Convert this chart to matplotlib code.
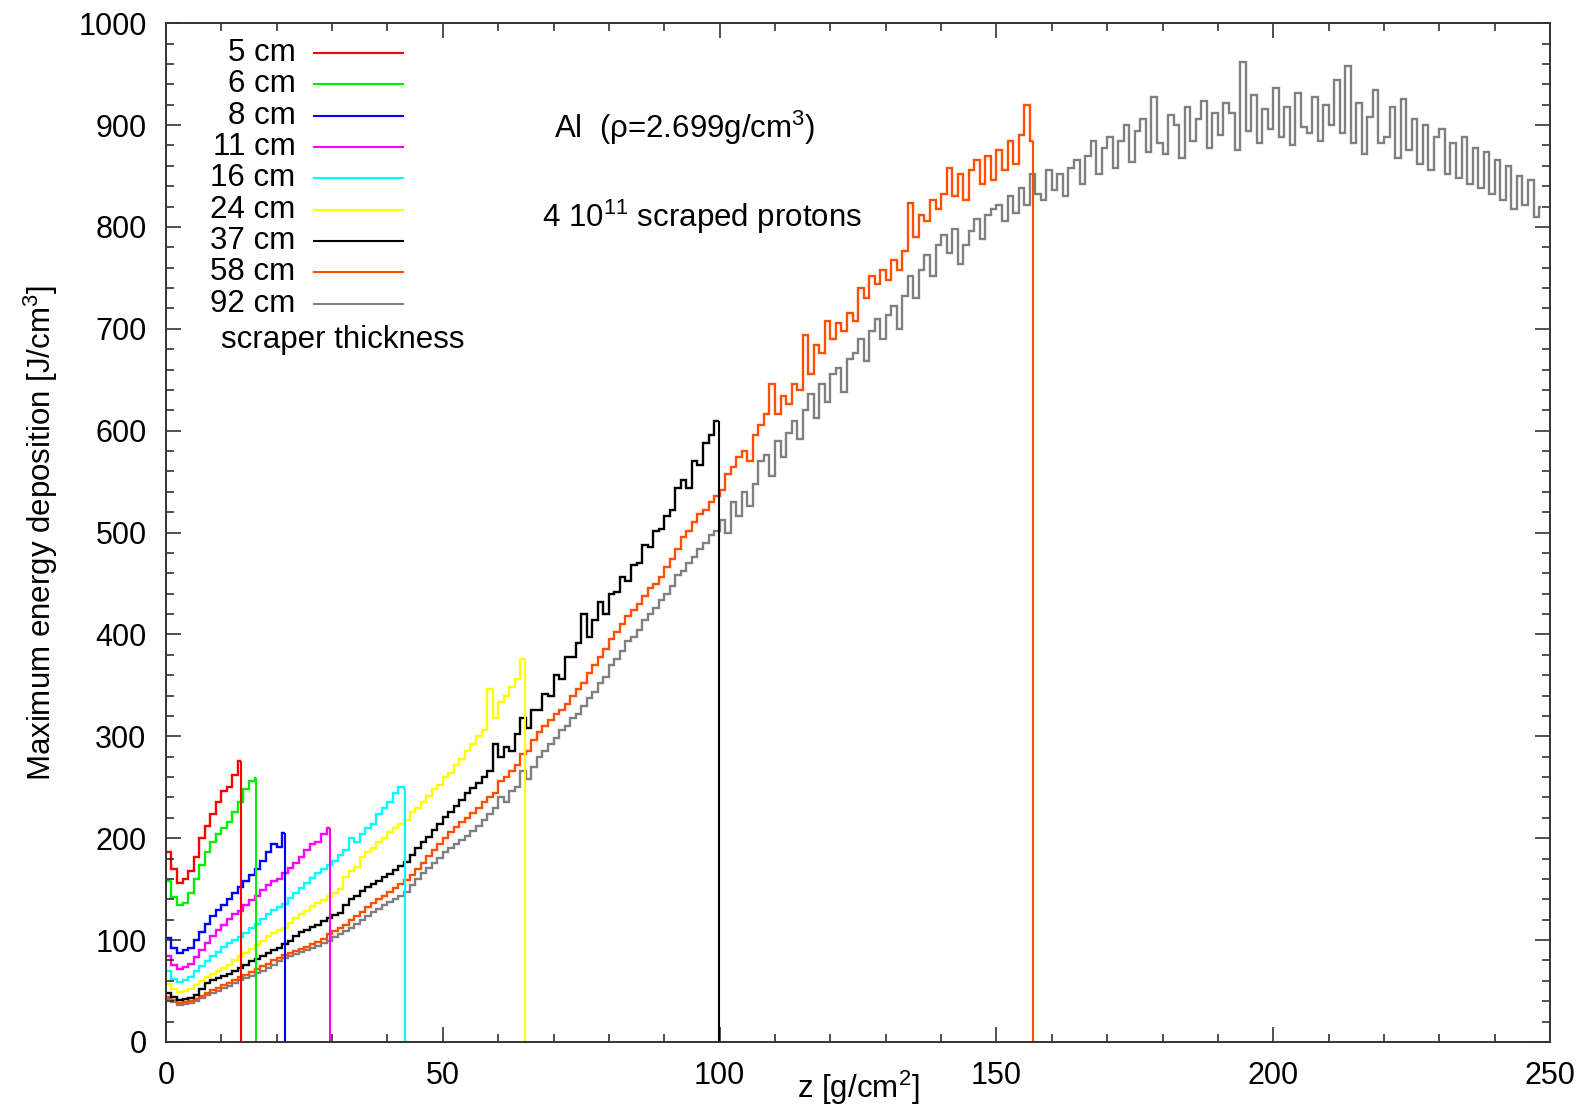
import numpy as np
import matplotlib
matplotlib.use("Agg")
import matplotlib.pyplot as plt
from matplotlib.ticker import MultipleLocator

plt.rcParams["font.family"] = ["Liberation Sans", "DejaVu Sans"]
plt.rcParams["mathtext.fontset"] = "custom"
plt.rcParams["mathtext.rm"] = "Liberation Sans"
plt.rcParams["mathtext.it"] = "Liberation Sans:italic"

# scraper thickness [cm] and aluminium density [g/cm3]
thickness_cm = [5, 6, 8, 11, 16, 24, 37, 58, 92]
density = 2.699
labels = ["5 cm", "6 cm", "8 cm", "11 cm", "16 cm", "24 cm", "37 cm", "58 cm", "92 cm"]
colors = ["#ff0000", "#00ee00", "#0000ff", "#ff00ff", "#00ffff",
          "#ffff00", "#000000", "#ff4f00", "#808080"]
# the 92 cm curve runs to the right edge, no drop line visible there
drop_line = [True, True, True, True, True, True, True, True, False]

# max energy deposition [J/cm3], 1 g/cm2 bins
dep_5 = [186, 170, 156, 160, 168, 182, 200, 212, 224, 236, 246, 250, 262, 276]
dep_6 = [158, 142, 134, 136, 146, 160, 174, 186, 196, 204, 210, 216, 226, 236,
         248, 256, 259]
dep_8 = [102, 92, 87, 90, 92, 100, 108, 116, 124, 130, 134, 140, 146, 152,
         158, 164, 170, 178, 186, 194, 191, 205]
dep_11 = [84, 76, 72, 74, 77, 83, 90, 97, 104, 110, 115, 121, 126, 129, 134,
          139, 143, 149, 154, 158, 160, 166, 171, 176, 182, 188, 194, 196, 204, 210]
dep_16 = [70, 62, 59, 61, 64, 70, 75, 79, 84, 88, 93, 97, 100, 103, 107, 112,
          116, 121, 126, 130, 132, 135, 141, 146, 151, 156, 161, 166, 170, 174,
          178, 184, 188, 200, 196, 204, 210, 214, 224, 230, 236, 244, 250, 248]
dep_24 = [57, 52, 49, 50, 52, 56, 60, 64, 67, 70, 73, 76, 80, 84, 87, 91, 95,
          99, 104, 107, 110, 112, 117, 122, 126, 129, 133, 136, 139, 143, 146,
          150, 162, 168, 172, 182, 186, 190, 196, 200, 206, 210, 214, 218, 226,
          230, 236, 241, 248, 252, 260, 264, 272, 278, 286, 292, 300, 306, 346,
          318, 334, 340, 348, 356, 376]
dep_37 = [48, 44, 41, 42, 43, 46, 52, 58, 61, 63, 65, 67, 70, 73, 76, 79, 81,
          84, 87, 90, 92, 96, 99, 104, 108, 110, 113, 115, 119, 122, 125, 127,
          134, 140, 143, 148, 152, 155, 158, 162, 165, 169, 173, 177, 184, 190,
          196, 201, 208, 214, 221, 226, 232, 238, 244, 249, 254, 260, 266, 292,
          280, 290, 286, 302, 318, 308, 326, 326, 342, 340,
          360, 356, 378, 378, 392, 420, 398, 414, 432, 420,
          440, 442, 456, 452, 468, 470, 488, 486, 502, 504,
          516, 522, 544, 552, 544, 570, 566, 588, 596, 610]
dep_58 = [44, 41, 38, 39, 40, 42, 45, 48, 51, 53,
          56, 58, 61, 64, 66, 69, 72, 75, 77, 80,
          82, 85, 87, 89, 91, 93, 96, 98, 101, 106,
          109, 112, 115, 120, 124, 128, 132, 136, 140, 143,
          147, 151, 155, 159, 164, 170, 176, 183, 188, 194,
          200, 206, 211, 216, 220, 225, 230, 236, 240, 244,
          256, 260, 266, 272, 283, 286, 296, 304, 310, 316,
          322, 326, 332, 340, 346, 352, 362, 370, 378, 386,
          396, 402, 410, 418, 424, 430, 438, 446, 450, 456,
          466, 474, 484, 496, 502, 510, 518, 522, 530, 536,
          542, 558, 564, 574, 580, 570, 596, 606, 616, 646,
          616, 634, 626, 646, 640, 694, 656, 684, 676, 708,
          690, 706, 698, 716, 708, 740, 730, 752, 744, 758,
          748, 768, 758, 776, 824, 790, 812, 806, 826, 818,
          832, 858, 830, 852, 826, 856, 866, 842, 870, 846,
          876, 856, 884, 862, 890, 920, 884]
dep_92 = [42, 39, 36, 37, 38, 40, 43, 46, 48, 50,
          53, 55, 58, 61, 63, 65, 68, 70, 73, 76,
          79, 82, 84, 86, 88, 90, 92, 94, 97, 99,
          103, 106, 109, 112, 116, 120, 124, 128, 131, 134,
          137, 140, 143, 147, 154, 160, 166, 171, 176, 181,
          186, 190, 194, 198, 202, 207, 212, 218, 224, 230,
          240, 236, 246, 250, 266, 258, 270, 280, 286, 292,
          298, 306, 310, 318, 322, 330, 338, 344, 352, 358,
          370, 376, 384, 394, 398, 404, 414, 420, 426, 434,
          440, 448, 458, 462, 470, 476, 484, 490, 498, 502,
          512, 500, 530, 516, 540, 526, 548, 570, 576, 556,
          590, 574, 598, 610, 592, 620, 636, 612, 646, 628,
          656, 662, 638, 670, 676, 690, 668, 698, 710, 690,
          714, 722, 700, 732, 752, 730, 758, 772, 752, 782,
          792, 774, 798, 764, 782, 796, 808, 788, 812, 818,
          822, 806, 830, 814, 838, 822, 852, 832, 826, 856,
          836, 852, 830, 858, 866, 842, 870, 884, 852, 878,
          888, 858, 884, 900, 864, 894, 906, 874, 928, 882,
          872, 910, 900, 868, 918, 884, 906, 924, 878, 912,
          890, 922, 912, 876, 962, 894, 930, 882, 916, 896,
          936, 888, 918, 880, 932, 898, 892, 928, 884, 920,
          900, 944, 892, 958, 882, 922, 872, 908, 934, 882,
          888, 918, 868, 926, 876, 906, 862, 900, 856, 888,
          896, 852, 882, 848, 888, 842, 878, 838, 874, 832,
          866, 826, 860, 818, 850, 822, 846, 810, 820]
series = [dep_5, dep_6, dep_8, dep_11, dep_16, dep_24, dep_37, dep_58, dep_92]

fig = plt.figure(figsize=(15.85, 11.06), dpi=100)
ax = fig.add_axes([0.1047, 0.0579, 0.8733, 0.9211])

# thickest first so the short ones sit on top
for t, vals, col, drop in reversed(list(zip(thickness_cm, series, colors, drop_line))):
    vals = np.asarray(vals, dtype=float)
    end = t * density
    edges = np.append(np.arange(len(vals), dtype=float), end)
    ax.stairs(vals, edges, color=col, lw=1.7, baseline=None)
    if drop:
        ax.vlines(end, 0, vals[-1], color=col, lw=1.5)

ax.set_xlim(0, 250)
ax.set_ylim(0, 1000)
ax.xaxis.set_major_locator(MultipleLocator(50))
ax.xaxis.set_minor_locator(MultipleLocator(10))
ax.yaxis.set_major_locator(MultipleLocator(100))
ax.yaxis.set_minor_locator(MultipleLocator(20))
ax.tick_params(which="both", direction="in", top=True, right=True,
               width=1.1, color="#222222", labelsize=22, pad=14)
ax.tick_params(which="major", length=11)
ax.tick_params(which="minor", length=5.5)
for sp in ax.spines.values():
    sp.set_linewidth(1.4)
    sp.set_color("#333333")

ax.set_xlabel("z [g/cm$^{2}$]", fontsize=22.5)
ax.xaxis.set_label_coords(0.5, -0.026)
ax.set_ylabel("Maximum energy deposition [J/cm$^{3}$]", fontsize=22.5, labelpad=13)

# legend drawn by hand: labels right-aligned to the left of the line samples
for i, (lab, col) in enumerate(zip(labels, colors)):
    y = 0.971 - i * 0.0308
    ax.text(0.0935, y, lab, ha="right", va="center", fontsize=22.5,
            transform=ax.transAxes)
    ax.plot([0.107, 0.171], [y, y], color=col, lw=1.5, transform=ax.transAxes)
ax.text(0.0401, 0.689, "scraper thickness", ha="left", va="center",
        fontsize=22.5, transform=ax.transAxes)

ax.text(0.280, 0.897, "Al  (ρ=2.699g/cm$^{3}$)", ha="left", va="center",
        fontsize=22.5, transform=ax.transAxes)
ax.text(0.272, 0.810, "4 10$^{11}$ scraped protons", ha="left", va="center",
        fontsize=22.5, transform=ax.transAxes)

fig.savefig("out.png", dpi=100)
